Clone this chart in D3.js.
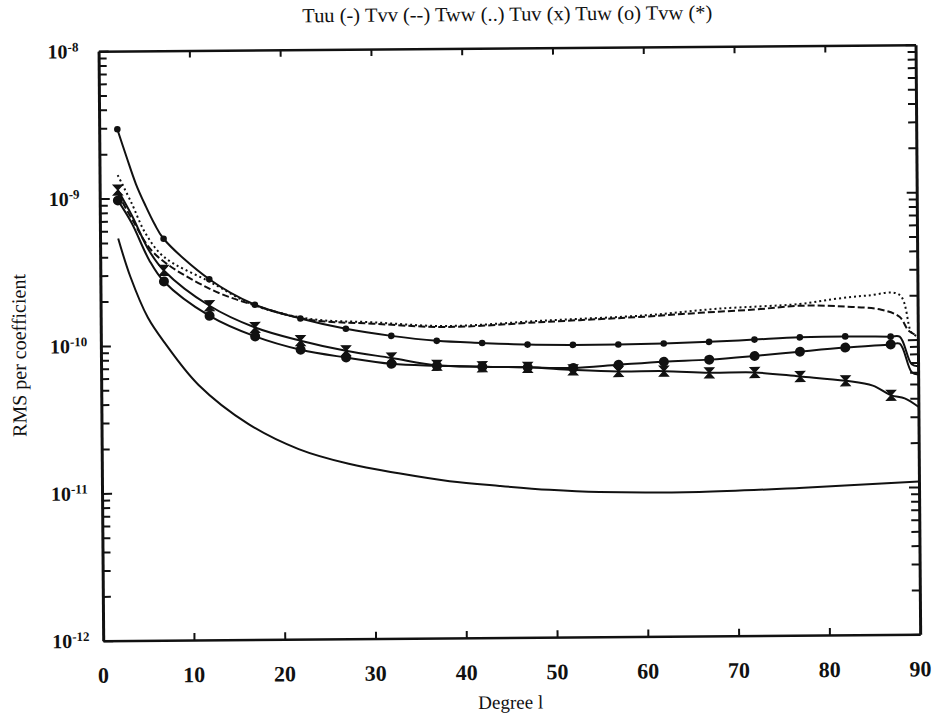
<!DOCTYPE html>
<html>
<head>
<meta charset="utf-8">
<script src="https://cdn.jsdelivr.net/npm/d3@7"></script>
<style>
  body { margin: 0; background: #fff; }
  text { font-family: "Liberation Serif", "DejaVu Serif", serif; fill: #111; }
</style>
</head>
<body>
<div id="chart"></div>
<script>
// ---- data ----
const markerDeg = [2, 7, 12, 17, 22, 27, 32, 37, 42, 47, 52, 57, 62, 67, 72, 77, 82, 87];

const tuuDeg = [2, 3.3, 5.2, 7, 10.7, 16.2, 21.7, 27.2, 32.7, 38.3, 43.8, 49.3, 54.8, 65.8, 76.8, 90];
const tuuVal = [5.35e-10, 2.95e-10, 1.55e-10, 1.05e-10, 5.4e-11, 2.9e-11, 1.95e-11, 1.54e-11, 1.32e-11,
                1.16e-11, 1.07e-11, 1.0e-11, 9.6e-12, 9.5e-12, 1.0e-11, 1.09e-11];

const tvvDeg = [2, 3.5, 6, 12, 17, 23, 30, 38, 49, 60, 66, 72, 77, 82, 86, 88, 89, 90];
const tvvVal = [1.08e-9, 7.3e-10, 4.2e-10, 2.42e-10, 1.85e-10, 1.47e-10, 1.37e-10, 1.29e-10, 1.38e-10,
                1.48e-10, 1.56e-10, 1.63e-10, 1.72e-10, 1.69e-10, 1.6e-10, 1.43e-10, 1.15e-10, 1.06e-10];

const twwDeg = [2, 3.5, 5, 7, 12, 17, 23, 30, 38, 49, 60, 68, 77, 81, 84.5, 88, 89.3, 90];
const twwVal = [1.44e-9, 9.3e-10, 5.8e-10, 4.0e-10, 2.7e-10, 1.85e-10, 1.49e-10, 1.4e-10, 1.31e-10,
                1.41e-10, 1.51e-10, 1.66e-10, 1.77e-10, 1.91e-10, 2.0e-10, 2.02e-10, 1.12e-10, 1.05e-10];

const tuvDeg = [2, 3.5, 5.4, 7, 12, 17, 22, 27, 32, 37, 42, 47, 52, 57, 62, 67, 72, 77, 82, 85, 87, 88.5, 90];
const tuvVal = [1.14e-9, 7.7e-10, 4.4e-10, 3.23e-10, 1.85e-10, 1.31e-10, 1.06e-10, 9.0e-11, 8.0e-11, 7.1e-11,
                6.9e-11, 6.8e-11, 6.5e-11, 6.3e-11, 6.3e-11, 6.1e-11, 6.1e-11, 5.7e-11, 5.3e-11, 4.9e-11,
                4.2e-11, 4.0e-11, 3.5e-11];

const tuwDeg = [2, 3.5, 5.4, 7, 12, 17, 22, 27, 32, 37, 42, 47, 52, 57, 62, 67, 72, 77, 82, 87, 88, 89.3, 90];
const tuwVal = [9.7e-10, 6.8e-10, 3.8e-10, 2.72e-10, 1.58e-10, 1.14e-10, 9.2e-11, 8.1e-11, 7.3e-11, 7.05e-11,
                6.9e-11, 6.8e-11, 6.7e-11, 7.0e-11, 7.3e-11, 7.5e-11, 7.9e-11, 8.4e-11, 8.9e-11, 9.3e-11,
                9.4e-11, 6.0e-11, 5.8e-11];

const tvwDeg = [2, 3, 4, 5, 6, 7, 12, 17, 22, 27, 32, 37, 42, 47, 52, 57, 62, 67, 72, 77, 82, 87, 88, 89.3, 90];
const tvwVal = [2.95e-9, 1.9e-9, 1.25e-9, 9.0e-10, 6.7e-10, 5.3e-10, 2.8e-10, 1.87e-10, 1.5e-10, 1.27e-10,
                1.13e-10, 1.04e-10, 1.0e-10, 9.7e-11, 9.6e-11, 9.6e-11, 9.7e-11, 9.9e-11, 1.02e-10, 1.05e-10,
                1.06e-10, 1.05e-10, 1.05e-10, 6.8e-11, 6.6e-11];

const xTickLabels = [0, 10, 20, 30, 40, 50, 60, 70, 80, 90];
const xInnerTicks = [10, 20, 30, 40, 50, 60, 70, 80];
const yExponents = [-8, -9, -10, -11, -12];

const titleText = "Tuu (-) Tvv (--) Tww (..) Tuv (x) Tuw (o) Tvw (*)";

// ---- layout ----
const W = 937, H = 719;
const plotLeft = 101, plotTop = 48.3;
const plotW = 817, plotH = 589.6;

const svg = d3.select("#chart").append("svg")
    .attr("width", W)
    .attr("height", H);

// the scanned figure is tilted a little
const page = svg.append("g")
    .attr("transform", `rotate(-0.45, ${W / 2}, ${H / 2})`);

const g = page.append("g")
    .attr("transform", `translate(${plotLeft},${plotTop})`);

const x = d3.scaleLinear().domain([0, 90]).range([0, plotW]);
const y = d3.scaleLog().domain([1e-12, 1e-8]).range([plotH, 0]);

const isMajor = v => Math.abs(Math.log10(v) - Math.round(Math.log10(v))) < 1e-6;

// axes (ticks point inward)
const yTicks = y.ticks();

function styleAxis(sel, w) {
    sel.select(".domain").attr("stroke", "#111").attr("stroke-width", w);
    sel.selectAll(".tick line").attr("stroke", "#111").attr("stroke-width", 2);
}

const yLeft = g.append("g")
    .call(d3.axisLeft(y).tickValues(yTicks).tickSizeInner(-8).tickSizeOuter(0).tickFormat(""));
styleAxis(yLeft, 3);
yLeft.selectAll(".tick line").attr("x2", d => isMajor(d) ? 10 : 8);

const yRight = g.append("g")
    .attr("transform", `translate(${plotW},0)`)
    .call(d3.axisRight(y).tickValues(yTicks).tickSizeInner(-8).tickSizeOuter(0).tickFormat(""));
styleAxis(yRight, 3);
yRight.selectAll(".tick line").attr("x2", d => isMajor(d) ? -10 : -8);

const xBottom = g.append("g")
    .attr("transform", `translate(0,${plotH})`)
    .call(d3.axisBottom(x).tickValues(xInnerTicks).tickSizeInner(-7).tickSizeOuter(0).tickFormat(""));
styleAxis(xBottom, 2.5);

const xTop = g.append("g")
    .call(d3.axisTop(x).tickValues(xInnerTicks).tickSizeInner(-7).tickSizeOuter(0).tickFormat(""));
styleAxis(xTop, 2.5);

// tick labels
g.selectAll(".xlab")
    .data(xTickLabels)
    .enter()
    .append("text")
    .attr("class", "xlab")
    .attr("x", d => x(d))
    .attr("y", plotH + 42)
    .attr("text-anchor", "middle")
    .style("font-size", "22px")
    .style("font-weight", "bold")
    .text(d => d);

const ylab = g.selectAll(".ylab")
    .data(yExponents)
    .enter()
    .append("text")
    .attr("class", "ylab")
    .attr("x", -51)
    .attr("y", d => y(Math.pow(10, d)) + 7)
    .style("font-size", "20px")
    .style("font-weight", "bold");
ylab.append("tspan").text("10");
ylab.append("tspan")
    .attr("dy", -7)
    .style("font-size", "13px")
    .text(d => "-" + Math.abs(d));

// series
const series = [
    { name: "Tuu", deg: tuuDeg, val: tuuVal, dash: null, marker: null },
    { name: "Tvv", deg: tvvDeg, val: tvvVal, dash: "7,3", marker: null },
    { name: "Tww", deg: twwDeg, val: twwVal, dash: "2,3", marker: null },
    { name: "Tuv", deg: tuvDeg, val: tuvVal, dash: null, marker: "x" },
    { name: "Tuw", deg: tuwDeg, val: tuwVal, dash: null, marker: "o" },
    { name: "Tvw", deg: tvwDeg, val: tvwVal, dash: null, marker: "*" }
];

const line = d3.line()
    .x(d => x(d[0]))
    .y(d => y(d[1]))
    .curve(d3.curveCatmullRom.alpha(0.5));

const lines = g.append("g").attr("class", "lines");

series.forEach(s => {
    const pts = s.deg.map((d, i) => [d, s.val[i]]);
    lines.append("path")
        .datum(pts)
        .attr("fill", "none")
        .attr("stroke", "#111")
        .attr("stroke-width", 2)
        .attr("stroke-dasharray", s.dash)
        .attr("d", line);

    if (!s.marker) return;
    const mk = pts.filter(p => markerDeg.includes(p[0]));
    const sel = lines.selectAll(".mk-" + s.name)
        .data(mk)
        .enter();
    if (s.marker === "o") {
        sel.append("circle")
            .attr("cx", d => x(d[0]))
            .attr("cy", d => y(d[1]))
            .attr("r", 5)
            .attr("fill", "#111");
    } else if (s.marker === "x") {
        sel.append("path")
            .attr("transform", d => `translate(${x(d[0])},${y(d[1])})`)
            .attr("d", "M-4.5,-5L4.5,-5L-4.5,5L4.5,5Z")
            .attr("fill", "#111")
            .attr("stroke", "#111")
            .attr("stroke-width", 1.2);
    } else {
        sel.append("circle")
            .attr("cx", d => x(d[0]))
            .attr("cy", d => y(d[1]))
            .attr("r", 3.3)
            .attr("fill", "#111");
    }
});

// titles
page.append("text")
    .attr("x", 510)
    .attr("y", 21)
    .attr("text-anchor", "middle")
    .attr("textLength", 410)
    .attr("lengthAdjust", "spacingAndGlyphs")
    .style("font-size", "20px")
    .text(titleText);

page.append("text")
    .attr("x", 508)
    .attr("y", 709)
    .attr("text-anchor", "middle")
    .style("font-size", "19px")
    .text("Degree l");

page.append("text")
    .attr("transform", "translate(26,352) rotate(-90)")
    .attr("text-anchor", "middle")
    .style("font-size", "20px")
    .text("RMS per coefficient");
</script>
</body>
</html>
